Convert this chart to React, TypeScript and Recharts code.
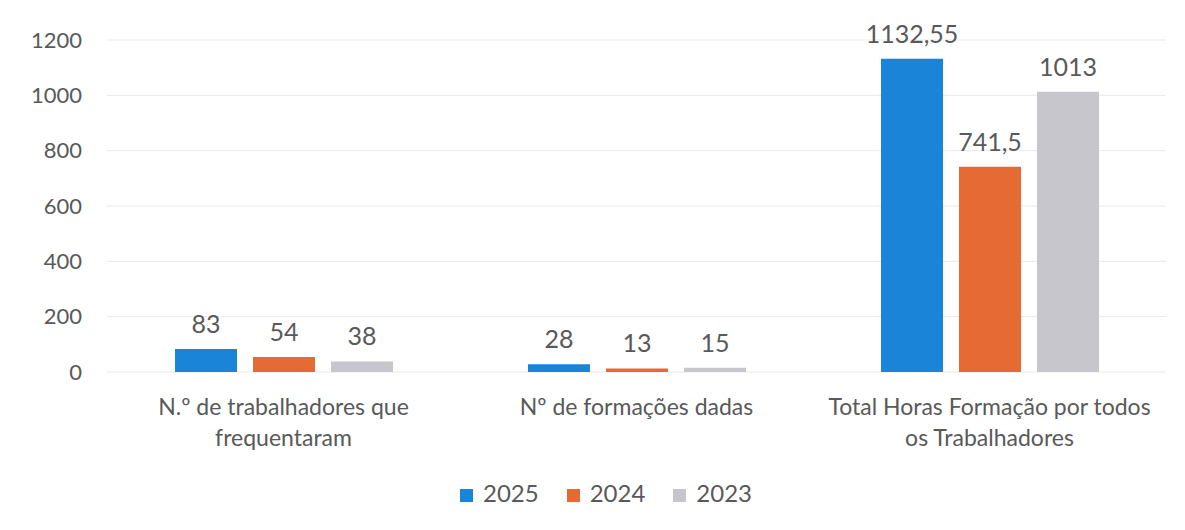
import { BarChart, Bar, XAxis, YAxis, CartesianGrid, Legend, LabelList } from 'recharts';

const categories = [
  'N.º de trabalhadores que\nfrequentaram',
  'Nº de formações dadas',
  'Total Horas Formação por todos\nos Trabalhadores',
];
const values2025 = [83, 28, 1132.55];
const values2024 = [54, 13, 741.5];
const values2023 = [38, 15, 1013];
const yTicks = [0, 200, 400, 600, 800, 1000, 1200];

const data = categories.map((name, i) => ({
  name,
  y2025: values2025[i],
  y2024: values2024[i],
  y2023: values2023[i],
}));

const font = 'Lato, "Noto Sans", sans-serif';
const textColor = '#595959';

const fmt = (v: any) => String(v).replace('.', ',');

const CategoryTick = ({ x, y, payload }: any) => {
  const lines = String(payload.value).split('\n');
  return (
    <text x={x} y={y} textAnchor="middle" fill={textColor} fontSize={23} fontFamily={font}>
      {lines.map((l, i) => (
        <tspan key={i} x={x} dy={i === 0 ? 35 : 31}>
          {l}
        </tspan>
      ))}
    </text>
  );
};

const labelProps = { position: 'top' as const, offset: 16, fill: textColor, fontSize: 25, fontFamily: font, formatter: fmt };

export default function App() {
  return (
    <div style={{ width: 1185, height: 530, background: '#fff' }}>
      <style>{'body{margin:0}'}</style>
      <BarChart
        width={1185}
        height={530}
        data={data}
        margin={{ top: 40, right: 19, left: 0, bottom: 0 }}
        barGap={16}
        barCategoryGap={68}
      >
        <CartesianGrid vertical={false} stroke="#e9e9e9" />
        <XAxis
          dataKey="name"
          axisLine={false}
          tickLine={false}
          height={106}
          interval={0}
          tick={<CategoryTick />}
        />
        <YAxis
          width={107}
          domain={[0, 1200]}
          ticks={yTicks}
          axisLine={false}
          tickLine={false}
          tickMargin={19}
          tick={{ fill: textColor, fontSize: 22, fontFamily: font }}
        />
        <Legend
          verticalAlign="bottom"
          height={52}
          iconType="square"
          iconSize={13}
          itemSorter={(item: any) => -Number(item.value)}
          wrapperStyle={{ fontFamily: font, fontSize: 24, paddingLeft: 74, boxSizing: 'border-box' }}
          formatter={(v: any) => (
            <span style={{ color: textColor, marginLeft: 6, marginRight: 18 }}>{v}</span>
          )}
        />
        <Bar dataKey="y2025" name="2025" fill="#1a84d8" isAnimationActive={false}>
          <LabelList dataKey="y2025" {...labelProps} />
        </Bar>
        <Bar dataKey="y2024" name="2024" fill="#e66a33" isAnimationActive={false}>
          <LabelList dataKey="y2024" {...labelProps} />
        </Bar>
        <Bar dataKey="y2023" name="2023" fill="#c6c6cc" isAnimationActive={false}>
          <LabelList dataKey="y2023" {...labelProps} />
        </Bar>
      </BarChart>
    </div>
  );
}
